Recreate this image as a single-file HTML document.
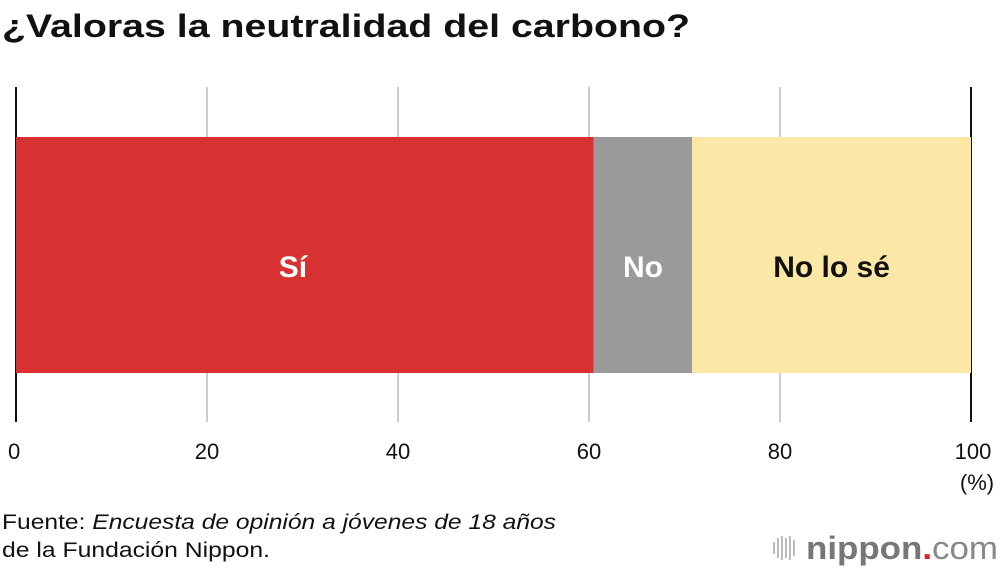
<!DOCTYPE html>
<html><head><meta charset="utf-8"><style>
body{margin:0;width:1000px;height:570px;background:#fff;overflow:hidden;font-family:"Liberation Sans",Arial,sans-serif}
svg{position:absolute;left:0;top:0}
</style></head><body>
<svg width="1000" height="570">
<text x="2" y="37" font-size="32" font-weight="bold" fill="#111" textLength="688" lengthAdjust="spacingAndGlyphs">¿Valoras la neutralidad del carbono?</text>
<g id="grid"></g>
<g id="bars"></g>
<g id="ticks"></g>
<text x="977" y="490" font-size="22" text-anchor="middle" fill="#111">(%)</text>
<text x="2" y="529" font-size="21" fill="#111" textLength="554" lengthAdjust="spacingAndGlyphs">Fuente: <tspan font-style="italic">Encuesta de opinión a jóvenes de 18 años</tspan></text>
<text x="2" y="557" font-size="21" fill="#111" textLength="268" lengthAdjust="spacingAndGlyphs">de la Fundación Nippon.</text>
<g>
<g fill="#bbb"><rect x="773" y="542" width="2" height="12"/><rect x="777" y="538" width="2" height="20"/><rect x="781" y="536" width="2" height="24"/><rect x="785" y="538" width="2" height="20"/><rect x="789" y="536" width="2" height="24"/><rect x="793" y="540" width="2" height="16"/></g>
<text x="806" y="559" font-size="32" font-weight="bold" fill="#777" textLength="192" lengthAdjust="spacingAndGlyphs">nippon<tspan fill="#e02020">.</tspan><tspan font-weight="normal" fill="#888">com</tspan></text>
</g>
</svg>
<script>
const categories=["Sí","No","No lo sé"];
const values=[60.5,10.3,29.2];
const colors=["#d83131","#9a9a9a","#fbe8a6"];
const labelColors=["#fff","#fff","#111"];
const tickValues=[0,20,40,60,80,100];
const x0=16,x1=971,yTop=137,yBot=373;
const xs=v=>x0+(x1-x0)*v/100;
const NS="http://www.w3.org/2000/svg";
const grid=document.getElementById('grid'),bars=document.getElementById('bars'),ticks=document.getElementById('ticks');
tickValues.forEach(t=>{
 const l=document.createElementNS(NS,'line');
 l.setAttribute('x1',xs(t));l.setAttribute('x2',xs(t));l.setAttribute('y1',87);l.setAttribute('y2',422);
 const edge=(t===0||t===100);
 l.setAttribute('stroke',edge?'#111':'#ccc');l.setAttribute('stroke-width',2);
 
 
 grid.appendChild(l);
 const tx=document.createElementNS(NS,'text');
 tx.setAttribute('x',t===0?xs(t)-8:xs(t)+(t===100?2:0));tx.setAttribute('y',459);tx.setAttribute('font-size',22);tx.setAttribute('text-anchor',t===0?'start':'middle');
 tx.setAttribute('fill','#111');tx.textContent=t;
 
 
 ticks.appendChild(tx);
});
let acc=0;
values.forEach((v,i)=>{
 const r=document.createElementNS(NS,'rect');
 r.setAttribute('x',xs(acc));r.setAttribute('width',xs(acc+v)-xs(acc));r.setAttribute('y',yTop);r.setAttribute('height',yBot-yTop);r.setAttribute('fill',colors[i]);
 
 
 bars.appendChild(r);
 const t=document.createElementNS(NS,'text');
 t.setAttribute('x',(xs(acc)+xs(acc+v))/2-(i===0?12:0));t.setAttribute('y',277);t.setAttribute('font-size',30);t.setAttribute('font-weight','bold');t.setAttribute('text-anchor','middle');t.setAttribute('fill',labelColors[i]);t.textContent=categories[i];
 
 
 bars.appendChild(t);
 acc+=v;
});
</script>
</body></html>
